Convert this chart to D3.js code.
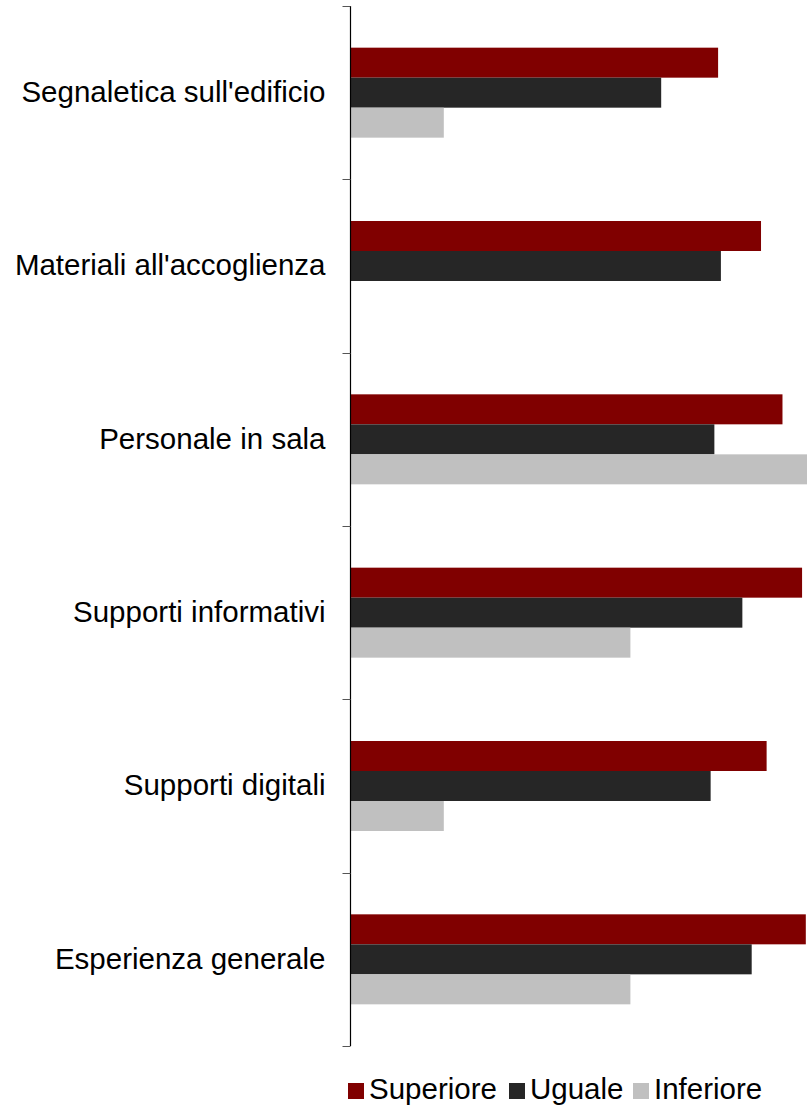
<!DOCTYPE html>
<html>
<head>
<meta charset="utf-8">
<script src="https://cdn.jsdelivr.net/npm/d3@7/dist/d3.min.js"></script>
<style>
  html, body { margin: 0; padding: 0; background: #fff; }
  svg { display: block; }
  text { font-family: Arial, "Liberation Sans", sans-serif; fill: #000; }
</style>
</head>
<body>
<svg id="chart" width="807" height="1105"></svg>
<script>
// Categories, top to bottom
const categories = [
  "Segnaletica sull'edificio",
  "Materiali all'accoglienza",
  "Personale in sala",
  "Supporti informativi",
  "Supporti digitali",
  "Esperienza generale"
];

// Series (mean scores)
const seriesNames = ["Superiore", "Uguale", "Inferiore"];
const superiore = [3.94, 4.40, 4.63, 4.84, 4.46, 4.88];
const uguale    = [3.33, 3.97, 3.90, 4.20, 3.86, 4.30];
const inferiore = [1, 0, 5, 3, 1, 3];
const seriesColors = ["#800000", "#262626", "#c0c0c0"];

const seriesValues = [superiore, uguale, inferiore];
const rows = categories.map((c, i) => ({
  cat: c,
  vals: seriesNames.map((s, k) => ({ key: s, value: seriesValues[k][i] }))
}));

const svg = d3.select("#chart");
const W = 807, H = 1105;
const x0 = 350.5, plotTop = 6, plotBottom = 1046;
const fontSize = "29.5px";

const y = d3.scaleBand().domain(categories).range([plotTop, plotBottom]).paddingInner(0).paddingOuter(0);
const x = d3.scaleLinear().domain([0, 5]).range([x0, x0 + 466.5]);

const barH = 30;
const yInner = d3.scaleBand().domain(seriesNames).range([0, barH * 3]);

svg.append("defs").append("clipPath").attr("id", "plotclip")
  .append("rect").attr("x", x0).attr("y", 0).attr("width", W - x0).attr("height", H);

// Bars
const g = svg.append("g").attr("clip-path", "url(#plotclip)");
const groups = g.selectAll("g.cat").data(rows).join("g")
  .attr("class", "cat")
  .attr("transform", d => `translate(0,${y(d.cat) + (y.bandwidth() - barH * 3) / 2})`);

groups.selectAll("rect").data(d => d.vals.filter(v => v.value > 0)).join("rect")
  .attr("x", x(0))
  .attr("y", d => yInner(d.key))
  .attr("height", yInner.bandwidth())
  .attr("width", d => x(d.value) - x(0))
  .attr("fill", d => seriesColors[seriesNames.indexOf(d.key)]);

// Category labels at band centres
const axis = svg.append("g").attr("transform", `translate(${x0},0)`)
  .call(d3.axisLeft(y).tickSize(0).tickPadding(25));
axis.select(".domain").remove();
axis.selectAll("text")
  .style("font-size", fontSize)
  .style("font-family", "Arial, 'Liberation Sans', sans-serif")
  .attr("fill", "#000");

// Axis line and boundary ticks
const bounds = categories.map(c => y(c)).concat([plotBottom]);
svg.append("line")
  .attr("x1", x0).attr("x2", x0)
  .attr("y1", plotTop).attr("y2", plotBottom)
  .attr("stroke", "#000").attr("stroke-width", 1.2);
svg.selectAll("line.tick-b").data(bounds).join("line")
  .attr("class", "tick-b")
  .attr("x1", x0 - 8).attr("x2", x0)
  .attr("y1", d => Math.round(d) + 0.5).attr("y2", d => Math.round(d) + 0.5)
  .attr("stroke", "#555").attr("stroke-width", 1);

// Legend
const legend = svg.append("g").attr("transform", "translate(0,1099)");
const legendX = [348, 509, 633];
seriesNames.forEach((s, i) => {
  const lg = legend.append("g").attr("transform", `translate(${legendX[i]},0)`);
  lg.append("rect").attr("x", 0).attr("y", -16).attr("width", 16).attr("height", 16)
    .attr("fill", seriesColors[i]);
  lg.append("text").attr("x", 21).attr("y", 0)
    .style("font-size", fontSize).text(s);
});
</script>
</body>
</html>
